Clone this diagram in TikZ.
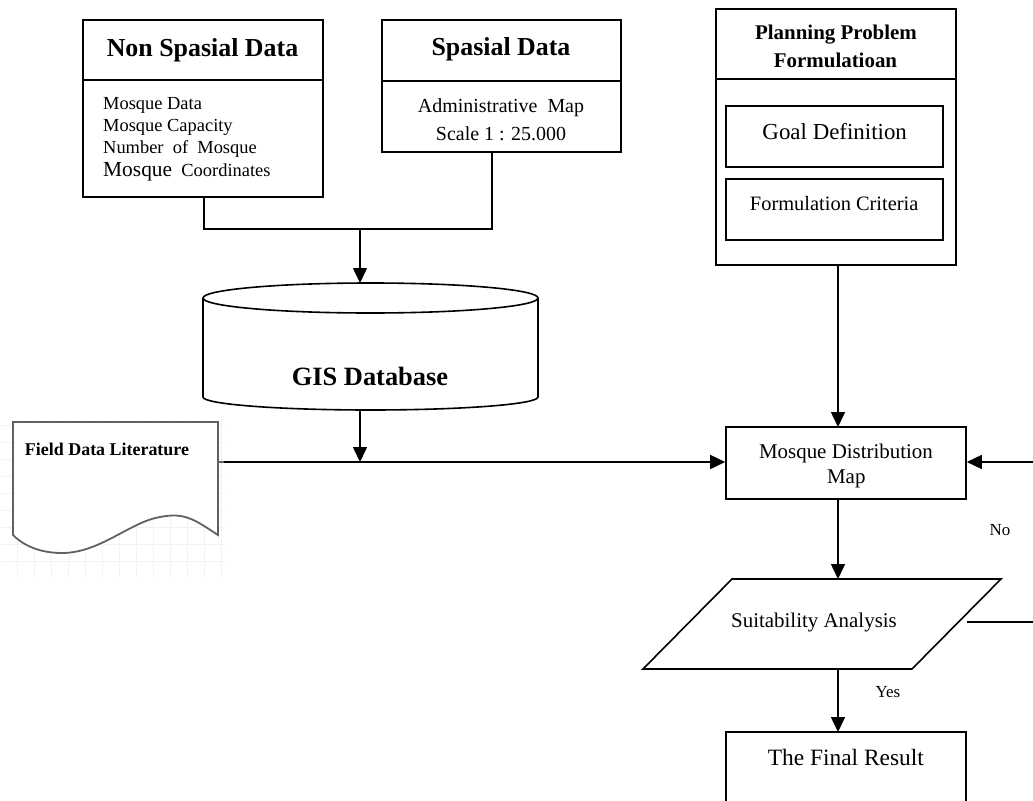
\documentclass[tikz,border=0pt]{standalone}
\usepackage{fontspec}
\setmainfont{Liberation Serif}
\usetikzlibrary{arrows.meta}
\begin{document}
\begin{tikzpicture}[x=1bp,y=-1bp,
  box/.style={draw,line width=1.6bp,rectangle,inner sep=0pt},
  conn/.style={line width=1.6bp},
  arr/.style={line width=1.6bp,-{Triangle[length=15bp,width=14bp]}},
  txt/.style={anchor=base,inner sep=0pt},
]
\useasboundingbox (0,0) rectangle (1033,801);
\clip (0,0) rectangle (1033,801);
\fill[white] (0,0) rectangle (1033,801);

% faint background grid near the document shape
\draw[black!5,line width=0.7bp,step=17bp] (2,419) grid (226,578);

% Non Spasial Data
\node[box,minimum width=240bp,minimum height=177bp] (nsd) at (203,108.5) {};
\draw[conn] (83,80) -- (323,80);
\node[txt,font=\fontsize{26}{30}\selectfont\bfseries] (nsdt) at (202.5,57) {Non Spasial Data};
\node[txt,anchor=base west,font=\fontsize{18.5}{22}\selectfont] (nsd1) at (103,109) {Mosque Data};
\node[txt,anchor=base west,font=\fontsize{18.5}{22}\selectfont] (nsd2) at (103,131) {Mosque Capacity};
\node[txt,anchor=base west,font=\fontsize{18.5}{22}\selectfont] (nsd3) at (103,153) {Number\ \ of\ \ Mosque};
\node[txt,anchor=base west,font=\fontsize{18.5}{22}\selectfont] (nsd4) at (103,176) {{\fontsize{21.5}{22}\selectfont Mosque}\ \ Coordinates};

% Spasial Data
\node[box,minimum width=239bp,minimum height=132bp] (sd) at (501.5,86) {};
\draw[conn] (382,81) -- (621,81);
\node[txt,font=\fontsize{26}{30}\selectfont\bfseries] (sdt) at (501,56) {Spasial Data};
\node[txt,font=\fontsize{20}{24}\selectfont] (sd1) at (501,112) {Administrative\ \ Map};
\node[txt,font=\fontsize{20}{24}\selectfont] (sd2) at (501,140) {Scale 1 : 25.000};

% join
\coordinate (j) at (360,229);
\draw[conn] (204,197) |- (j) -| (492,152);

% GIS database cylinder
\draw[conn,fill=white] (203,298) -- (203,397) arc[start angle=180,end angle=360,x radius=167.5bp,y radius=13bp] -- (538,298);
\draw[conn,fill=white] (370.5,298) ellipse[x radius=167.5bp,y radius=15bp];
\coordinate (gistop) at (360,283);
\coordinate (gisbot) at (360,410);
\node[txt,font=\fontsize{26.5}{30}\selectfont\bfseries] (gis) at (370,385) {GIS Database};
\draw[arr] (j) -- (gistop);

% Field data literature document
\draw[line width=1.8bp,draw=black!62,fill=white] (13,422) -- (218,422) -- (218,535)
  .. controls (195,520) and (185,512) .. (160,517)
  .. controls (130,522) and (100,553) .. (62,553)
  .. controls (35,553) and (20,542) .. (13,535) -- cycle;
\draw[line width=1.8bp,draw=black!62] (218,462) -- (224,462);
\node[txt,font=\fontsize{18}{22}\selectfont\bfseries] (fdl) at (107,455) {Field Data Literature};

% Planning Problem Formulation
\node[box,minimum width=240bp,minimum height=256bp] (ppf) at (836,137) {};
\draw[conn] (716,79) -- (956,79);
\node[txt,font=\fontsize{21}{25}\selectfont\bfseries] (ppf1) at (836,39.5) {Planning Problem};
\node[txt,font=\fontsize{21}{25}\selectfont\bfseries] (ppf2) at (835.5,68) {Formulatioan};
\node[box,minimum width=217bp,minimum height=61bp] (goal) at (834.5,136.5) {};
\node[txt,font=\fontsize{23}{27}\selectfont] (goalt) at (834.7,139) {Goal Definition};
\node[box,minimum width=217bp,minimum height=61bp] (crit) at (834.5,209.5) {};
\node[txt,font=\fontsize{20.5}{25}\selectfont] (critt) at (834.2,210) {Formulation Criteria};

% Mosque Distribution Map
\node[box,minimum width=240bp,minimum height=72bp] (map) at (846,463) {};
\node[txt,font=\fontsize{21}{25}\selectfont] (map1) at (846,458) {Mosque Distribution};
\node[txt,font=\fontsize{21}{25}\selectfont] (map2) at (846.3,483) {Map};

% connectors into map
\coordinate (gl) at (224,462);
\draw[arr] (gisbot) -- (360,462);
\draw[arr] (gl) -- (map.west |- gl);
\draw[arr] (838,265) -- (838,427);
\coordinate (rin) at (1040,462);
\draw[arr] (rin) -- (map.east |- rin);

% Suitability Analysis parallelogram
\coordinate (sTL) at (732,579);
\coordinate (sTR) at (1001,579);
\coordinate (sBR) at (912,669);
\coordinate (sBL) at (643,669);
\draw[conn,line join=miter] (sTL) -- (sTR) -- (sBR) -- (sBL) -- cycle;
\node[txt,font=\fontsize{21}{25}\selectfont] (suit) at (814,627) {Suitability Analysis};
\draw[arr] (838,499) -- (838,579);
\coordinate (rout) at (1040,622);
\draw[conn] (967,622) -- (rout);
\node[txt,font=\fontsize{17}{20}\selectfont] (no) at (1000,535) {No};

% Final result
\draw[conn] (726,815) -- (726,732) -- (966,732) -- (966,815);
\node[txt,font=\fontsize{23.5}{28}\selectfont] (final) at (845.8,765) {The Final Result};
\draw[arr] (838,669) -- (838,732);
\node[txt,font=\fontsize{17}{20}\selectfont] (yes) at (888,697) {Yes};
\end{tikzpicture}
\end{document}
